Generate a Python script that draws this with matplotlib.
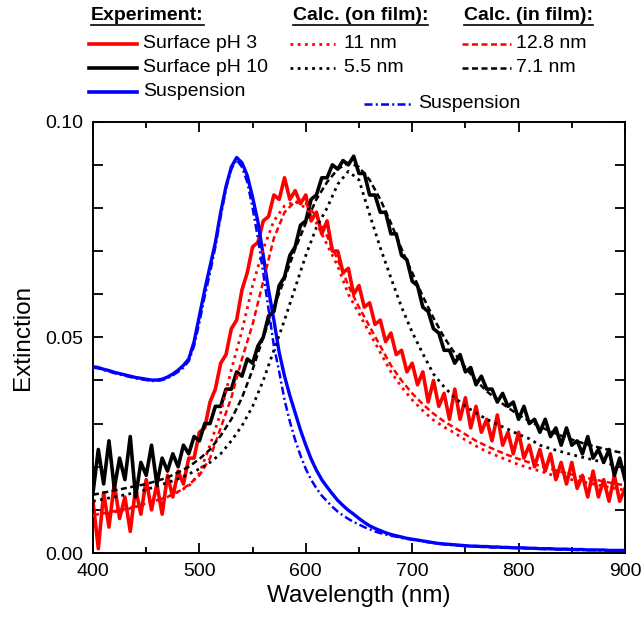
import matplotlib
matplotlib.use("Agg")
import matplotlib.pyplot as plt
from matplotlib.lines import Line2D
from matplotlib.ticker import MultipleLocator

plt.rcParams["font.family"] = ["Liberation Sans", "DejaVu Sans"]

# wavelength grids (nm)
wl5 = list(range(400, 905, 5))
wl10 = list(range(400, 910, 10))

# measured spectra, 5 nm steps
red_exp = [0.012, 0.001, 0.014, 0.006, 0.016, 0.008, 0.013, 0.005, 0.015, 0.009,
           0.017, 0.010, 0.016, 0.009, 0.018, 0.013, 0.019, 0.016, 0.022, 0.022,
           0.028, 0.029, 0.035, 0.038, 0.044, 0.046, 0.052, 0.054, 0.061, 0.065,
           0.071, 0.072, 0.077, 0.078, 0.083, 0.082, 0.087, 0.082, 0.084, 0.081,
           0.083, 0.077, 0.079, 0.074, 0.077, 0.070, 0.070, 0.065, 0.066, 0.060,
           0.062, 0.057, 0.058, 0.053, 0.054, 0.049, 0.051, 0.046, 0.047, 0.042,
           0.044, 0.039, 0.042, 0.035, 0.040, 0.034, 0.037, 0.031, 0.038, 0.031,
           0.036, 0.029, 0.034, 0.028, 0.031, 0.026, 0.032, 0.025, 0.028, 0.023,
           0.028, 0.022, 0.025, 0.020, 0.024, 0.019, 0.023, 0.017, 0.021, 0.016,
           0.021, 0.015, 0.018, 0.013, 0.019, 0.013, 0.017, 0.012, 0.018, 0.012,
           0.015]
black_exp = [0.014, 0.024, 0.016, 0.026, 0.015, 0.022, 0.017, 0.027, 0.013, 0.021,
             0.018, 0.025, 0.016, 0.022, 0.019, 0.023, 0.020, 0.025, 0.023, 0.027,
             0.026, 0.030, 0.030, 0.034, 0.034, 0.038, 0.038, 0.042, 0.041, 0.045,
             0.044, 0.048, 0.050, 0.055, 0.056, 0.062, 0.064, 0.069, 0.071, 0.076,
             0.077, 0.082, 0.083, 0.087, 0.087, 0.090, 0.089, 0.091, 0.090, 0.092,
             0.088, 0.088, 0.083, 0.083, 0.079, 0.079, 0.074, 0.074, 0.069, 0.068,
             0.063, 0.062, 0.057, 0.056, 0.052, 0.051, 0.047, 0.047, 0.044, 0.046,
             0.042, 0.043, 0.039, 0.041, 0.038, 0.038, 0.035, 0.037, 0.034, 0.035,
             0.031, 0.034, 0.030, 0.031, 0.028, 0.031, 0.027, 0.029, 0.025, 0.029,
             0.025, 0.026, 0.023, 0.027, 0.022, 0.024, 0.021, 0.024, 0.018, 0.022,
             0.017]
susp_exp = [0.0432, 0.0430, 0.0426, 0.0423, 0.0419, 0.0416, 0.0413, 0.0410, 0.0407, 0.0405,
            0.0403, 0.0401, 0.0401, 0.0403, 0.0408, 0.0415, 0.0424, 0.0435, 0.0450, 0.0490,
            0.0550, 0.0610, 0.0665, 0.0720, 0.0790, 0.0850, 0.0895, 0.0917, 0.0905, 0.0875,
            0.0825, 0.0768, 0.0690, 0.0610, 0.0540, 0.0465, 0.0410, 0.0365, 0.0325, 0.0285,
            0.0250, 0.0218, 0.0192, 0.0170, 0.0153, 0.0137, 0.0122, 0.0110, 0.0099, 0.0090,
            0.0080, 0.0071, 0.0063, 0.0057, 0.0052, 0.0047, 0.0043, 0.0040, 0.0037, 0.0034,
            0.0032, 0.0030, 0.0028, 0.0026, 0.0024, 0.0022, 0.0021, 0.0020, 0.0019, 0.0018,
            0.0017, 0.0016, 0.0016, 0.0015, 0.0015, 0.0014, 0.0014, 0.0013, 0.0013, 0.0012,
            0.0012, 0.0012, 0.0011, 0.0011, 0.0010, 0.0010, 0.0010, 0.0009, 0.0009, 0.0009,
            0.0008, 0.0008, 0.0008, 0.0007, 0.0007, 0.0007, 0.0007, 0.0006, 0.0006, 0.0006,
            0.0006]
susp_calc = [0.0430, 0.0428, 0.0424, 0.0421, 0.0417, 0.0414, 0.0411, 0.0408, 0.0405, 0.0403,
             0.0401, 0.0399, 0.0399, 0.0401, 0.0405, 0.0412, 0.0420, 0.0430, 0.0445, 0.0480,
             0.0535, 0.0595, 0.0650, 0.0710, 0.0780, 0.0845, 0.0890, 0.0912, 0.0895, 0.0860,
             0.0800, 0.0730, 0.0650, 0.0565, 0.0480, 0.0420, 0.0355, 0.0305, 0.0262, 0.0226,
             0.0195, 0.0170, 0.0150, 0.0133, 0.0120, 0.0107, 0.0096, 0.0087, 0.0079, 0.0072,
             0.0066, 0.0060, 0.0055, 0.0050, 0.0046, 0.0043, 0.0040, 0.0038, 0.0035, 0.0033,
             0.0031, 0.0029, 0.0027, 0.0025, 0.0023, 0.0022, 0.0020, 0.0019, 0.0018, 0.0017,
             0.0016, 0.0016, 0.0015, 0.0014, 0.0014, 0.0013, 0.0013, 0.0012, 0.0012, 0.0012,
             0.0011, 0.0011, 0.0010, 0.0010, 0.0010, 0.0009, 0.0009, 0.0009, 0.0008, 0.0008,
             0.0008, 0.0007, 0.0007, 0.0007, 0.0007, 0.0006, 0.0006, 0.0006, 0.0006, 0.0005,
             0.0005]

# calculated spectra, 10 nm steps
red_on_11 = [0.0085, 0.0090, 0.0095, 0.0100, 0.0107, 0.0115, 0.0122, 0.0130, 0.0142, 0.0155,
             0.0185, 0.0250, 0.0325, 0.0425, 0.0515, 0.0620, 0.0705, 0.0770, 0.0805, 0.0815,
             0.0800, 0.0765, 0.0715, 0.0665, 0.0600, 0.0555, 0.0510, 0.0465, 0.0420, 0.0385,
             0.0355, 0.0330, 0.0308, 0.0292, 0.0278, 0.0262, 0.0248, 0.0235, 0.0225, 0.0215,
             0.0205, 0.0197, 0.0190, 0.0182, 0.0176, 0.0170, 0.0165, 0.0160, 0.0155, 0.0150,
             0.0146]
red_in_128 = [0.0088, 0.0092, 0.0097, 0.0102, 0.0108, 0.0115, 0.0122, 0.0130, 0.0142, 0.0158,
              0.0180, 0.0220, 0.0290, 0.0360, 0.0450, 0.0530, 0.0630, 0.0730, 0.0790, 0.0815,
              0.0810, 0.0780, 0.0735, 0.0680, 0.0620, 0.0570, 0.0525, 0.0480, 0.0435, 0.0400,
              0.0370, 0.0345, 0.0323, 0.0305, 0.0290, 0.0275, 0.0260, 0.0248, 0.0237, 0.0227,
              0.0218, 0.0210, 0.0202, 0.0195, 0.0188, 0.0182, 0.0176, 0.0171, 0.0166, 0.0161,
              0.0157]
black_on_55 = [0.0120, 0.0125, 0.0130, 0.0135, 0.0140, 0.0147, 0.0155, 0.0163, 0.0172, 0.0183,
               0.0195, 0.0210, 0.0230, 0.0260, 0.0295, 0.0340, 0.0400, 0.0470, 0.0540, 0.0615,
               0.0690, 0.0755, 0.0800, 0.0855, 0.0885, 0.0865, 0.0785, 0.0708, 0.0638, 0.0570,
               0.0512, 0.0462, 0.0415, 0.0385, 0.0360, 0.0340, 0.0325, 0.0310, 0.0298, 0.0287,
               0.0275, 0.0265, 0.0250, 0.0242, 0.0235, 0.0228, 0.0222, 0.0216, 0.0210, 0.0204,
               0.0198]
black_in_71 = [0.0135, 0.0140, 0.0145, 0.0150, 0.0155, 0.0160, 0.0167, 0.0175, 0.0187, 0.0200,
               0.0218, 0.0240, 0.0272, 0.0310, 0.0360, 0.0425, 0.0500, 0.0570, 0.0635, 0.0705,
               0.0765, 0.0820, 0.0860, 0.0890, 0.0905, 0.0895, 0.0865, 0.0820, 0.0765, 0.0705,
               0.0650, 0.0595, 0.0545, 0.0500, 0.0463, 0.0430, 0.0400, 0.0375, 0.0355, 0.0337,
               0.0320, 0.0306, 0.0293, 0.0282, 0.0272, 0.0263, 0.0255, 0.0248, 0.0242, 0.0236,
               0.0231]

DOT = (0, (1, 1.6))
DASH = (0, (2.4, 1.4))
DASHDOT = (0, (3.2, 1.3, 0.8, 1.3))

W, H = 644, 619
fig = plt.figure(figsize=(W / 100, H / 100), dpi=100)
ax = fig.add_axes([93 / W, 1 - 553 / H, 532 / W, 431.3 / H])

ax.plot(wl5, red_exp, color="#ff0000", lw=2.6, zorder=2)
ax.plot(wl5, black_exp, color="black", lw=2.6, zorder=3)
ax.plot(wl5, susp_exp, color="#0000ff", lw=2.4, zorder=4)
ax.plot(wl10, red_on_11, color="#ff0000", lw=2.0, ls=DOT, zorder=5)
ax.plot(wl10, red_in_128, color="#ff0000", lw=1.8, ls=DASH, zorder=5)
ax.plot(wl10, black_on_55, color="black", lw=2.0, ls=DOT, zorder=5)
ax.plot(wl10, black_in_71, color="black", lw=1.8, ls=DASH, zorder=5)
ax.plot(wl5, susp_calc, color="#0000ff", lw=1.8, ls=DASHDOT, zorder=5)

ax.set_xlim(400, 900)
ax.set_ylim(0, 0.10)
ax.xaxis.set_major_locator(MultipleLocator(100))
ax.xaxis.set_minor_locator(MultipleLocator(50))
ax.yaxis.set_major_locator(MultipleLocator(0.05))
ax.yaxis.set_minor_locator(MultipleLocator(0.01))
ax.yaxis.set_major_formatter(lambda v, p: f"{v:.2f}")
ax.tick_params(which="both", direction="in", top=True, right=True, width=1.3,
               labelsize=14, pad=7)
ax.tick_params(which="major", length=7)
ax.tick_params(axis="x", which="minor", length=4)
ax.tick_params(axis="y", which="minor", length=7)
for s in ax.spines.values():
    s.set_linewidth(1.4)
ax.set_xlabel("Wavelength (nm)", fontsize=17.5, labelpad=4)
ax.set_ylabel("Extinction", fontsize=17.5, labelpad=8)


# legend drawn by hand above the axes, positions in pixels
def fx(px):
    return px / W


def fy(py):
    return 1 - py / H


def key(x0, x1, y, color, ls, lw):
    fig.add_artist(Line2D([fx(x0), fx(x1)], [fy(y), fy(y)], transform=fig.transFigure,
                          color=color, ls=ls, lw=lw))


headers = [(91, "Experiment:"), (293, "Calc. (on film):"), (464, "Calc. (in film):")]
head_texts = []
for x, t in headers:
    head_texts.append(fig.text(fx(x), fy(16), t, fontsize=14, fontweight="bold",
                               va="center", ha="left"))

rows = [
    (44, "#ff0000", "Surface pH 3", "11 nm", "12.8 nm"),
    (68, "black", "Surface pH 10", "5.5 nm", "7.1 nm"),
]
for y, c, lab, lab_on, lab_in in rows:
    key(89, 137, y, c, "-", 2.6)
    fig.text(fx(143), fy(y), lab, fontsize=14, va="center")
    key(290, 335, y, c, DOT, 2.0)
    fig.text(fx(344), fy(y), lab_on, fontsize=14, va="center")
    key(462, 511, y, c, DASH, 1.8)
    fig.text(fx(516), fy(y), lab_in, fontsize=14, va="center")

key(89, 137, 92, "#0000ff", "-", 2.6)
fig.text(fx(143), fy(92), "Suspension", fontsize=14, va="center")
key(364, 411, 104, "#0000ff", DASHDOT, 1.8)
fig.text(fx(418), fy(104), "Suspension", fontsize=14, va="center")

# underline the headers
fig.canvas.draw()
r = fig.canvas.get_renderer()
for t in head_texts:
    bb = t.get_window_extent(r).transformed(fig.transFigure.inverted())
    fig.add_artist(Line2D([bb.x0, bb.x1], [fy(24.5), fy(24.5)], transform=fig.transFigure,
                          color="black", lw=1.2))

fig.savefig("out.png", dpi=100)
